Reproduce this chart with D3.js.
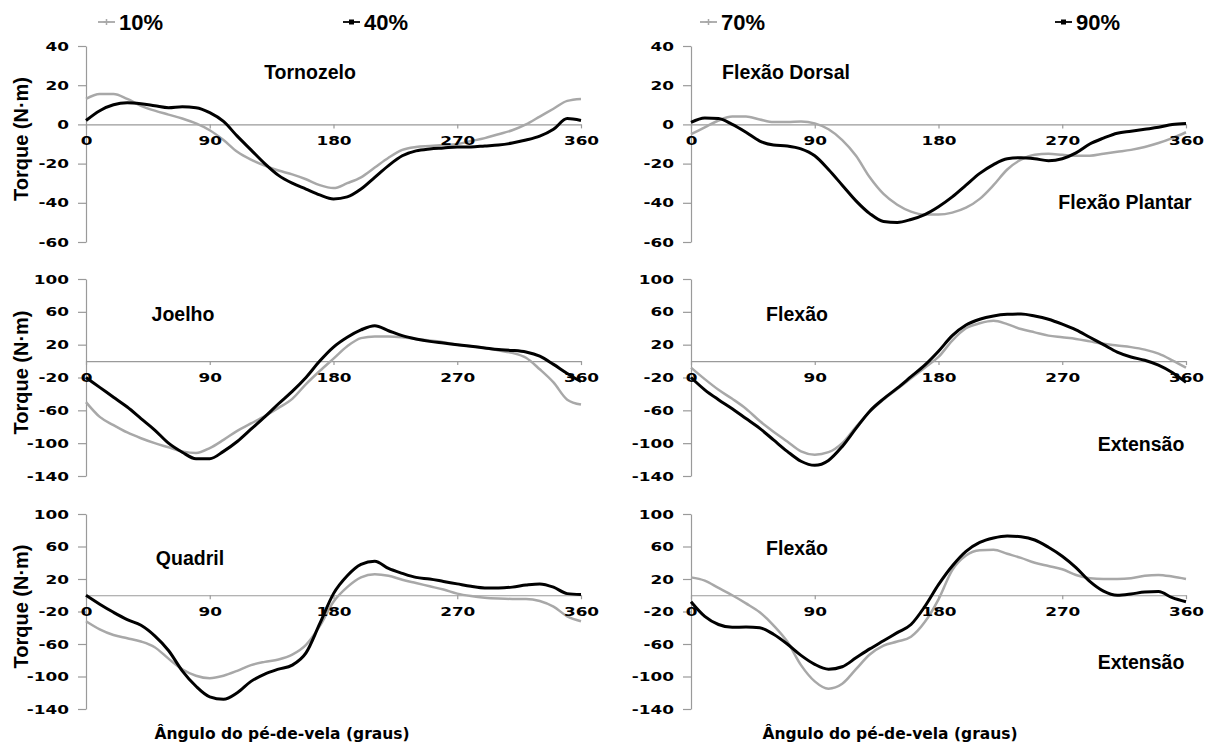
<!DOCTYPE html>
<html>
<head>
<meta charset="utf-8">
<script src="https://cdn.jsdelivr.net/npm/d3@7"></script>
<style>
  body { margin: 0; background: #fff; }
  svg { display: block; font-family: "Liberation Sans", Arial, sans-serif; }
  .tick text { font-family: "DejaVu Sans", sans-serif; font-weight: bold; font-size: 12.5px; fill: #000; }
  .axis path, .axis line { stroke: #9a9a9a; stroke-width: 1.2; }
</style>
</head>
<body>
<div id="chart"></div>
<script>
// crank angle (degrees)
const angles = [0, 10, 20, 30, 40, 50, 60, 70, 80, 90, 100, 110, 120, 130, 140, 150, 160, 170, 180,
  190, 200, 210, 220, 230, 240, 250, 260, 270, 280, 290, 300, 310, 320, 330, 340, 350, 360];

const xTicks = [0, 90, 180, 270, 360];
const ankleTicks = [40, 20, 0, -20, -40, -60];
const jointTicks = [100, 60, 20, -20, -60, -100, -140];

// torque (N·m) — ankle
const ankle10 = [13, 15.5, 15.5, 13, 9.5, 7, 5, 3, 0.5, -3, -8, -14, -18, -21, -23.5, -25.5, -28, -31, -32.5,
  -30, -27, -22, -17, -13, -11.5, -11, -10.5, -10, -8.5, -7, -5, -3, 0, 4, 8, 12, 13];
const ankle40 = [2, 7, 10, 11, 10.5, 9.5, 8.5, 9, 8.5, 6, 1.5, -6, -13, -20, -26, -30, -33, -36, -38,
  -37, -33, -27, -21, -16, -13.5, -12.5, -12, -11.5, -11.5, -11, -10.5, -9.5, -8, -6, -2.5, 3, 2];
const ankle70 = [-5, -1.5, 2, 4, 4, 2.5, 1.2, 1.2, 1.5, 0.5, -2.5, -8, -16, -27, -35.5, -41, -44.5, -46, -46,
  -45, -42.5, -38, -31, -23, -18, -15.5, -15, -15.5, -16, -16, -15, -14, -13, -11.5, -9.5, -7, -4];
const ankle90 = [1, 3.3, 3, 0, -4, -8.5, -10.5, -11, -12.5, -16, -23, -31, -39, -45.5, -49.5, -50, -48.5, -46, -42,
  -37, -31, -25, -20.5, -17.5, -17, -17.5, -18.5, -17.5, -14.5, -10, -7, -4.5, -3.5, -2.5, -1.5, 0, 0.5];

// knee
const knee10 = [-50, -68, -78, -87, -94, -100, -105, -110, -112, -106, -96, -85, -76, -67, -57, -46, -28, -12, 3,
  18, 28, 30, 30, 29, 27, 25, 23, 20, 18, 16, 13, 10, 4, -10, -26, -47, -53];
const knee40 = [-20, -32, -44, -56, -70, -84, -100, -111, -119, -119, -110, -98, -83, -68, -52, -37, -20, 0, 17,
  29, 38, 43, 37, 31, 27, 24, 22, 20, 18, 16, 14, 13, 11, 6, -4, -15, -25];
const knee70 = [-8, -22, -35, -46, -58, -73, -86, -98, -110, -114, -111, -100, -80, -62, -47, -34, -21, -8, 5,
  25, 40, 46, 49, 45, 39, 35, 31, 29, 27, 24, 21, 19, 17, 14, 9, 1, -8];
const knee90 = [-20, -35, -47, -58, -70, -82, -96, -110, -122, -127, -121, -104, -82, -61, -46, -33, -19, -5, 12,
  31, 44, 51, 55, 57, 57.5, 55, 51, 45, 38, 29, 20, 11, 5, 1, -5, -14, -26];

// hip
const hip10 = [-32, -42, -49, -53, -57, -64, -78, -91, -99, -102, -99, -93, -86, -82, -79, -73, -61, -38, -8,
  10, 22, 26, 24, 19, 15, 11, 7, 2, -1, -3, -4, -4.5, -4.5, -7, -14, -26, -32];
const hip40 = [0, -11, -21, -30, -37, -50, -68, -93, -112, -125, -128, -120, -106, -97, -91, -86, -71, -35, 2,
  24, 38, 42, 33, 27, 22, 20, 17, 14, 11, 9, 9, 10, 12.5, 14, 10, 2, 1];
const hip70 = [22, 18, 9, 0, -10, -21, -37, -57, -86, -106, -115, -109, -91, -73, -62, -57, -51, -33, -5,
  31, 49, 55.5, 56, 51, 46, 40, 36, 32, 25, 21, 20, 20, 21, 24, 25, 23, 20];
const hip90 = [-8, -26, -36, -39.5, -39, -40, -48, -60, -74, -85, -91, -88, -77, -66, -56, -46, -36, -14, 13,
  36, 54, 65, 70.5, 73, 72, 68, 59, 48, 34, 17, 5, 0, 1.5, 4, 4.5, -3, -8];

const legendLabels = ["10%", "40%", "70%", "90%"];
const GRAY = "#a8a8a8", BLACK = "#000";

var width = 1213, height = 746;

var svg = d3.select("#chart").append("svg")
  .attr("width", width)
  .attr("height", height);

svg.append("rect").attr("width", width).attr("height", height).attr("fill", "#fff");

// the tick labels in the picture are wide and heavy: stretch them sideways
var STRETCH = 1.35;
function stretchTicks(sel) {
  sel.selectAll(".tick text")
    .attr("transform", "scale(" + STRETCH + ",1)")
    .attr("x", function () { return (+this.getAttribute("x") || 0) / STRETCH; });
}

// panel frames (pixel layout only)
var cols = [{ x0: 86, x1: 581 }, { x0: 691, x1: 1186 }];
var rows = [
  { top: 46, bot: 242, domain: [-60, 40], ticks: ankleTicks },
  { top: 279, bot: 476, domain: [-140, 100], ticks: jointTicks },
  { top: 514, bot: 709, domain: [-140, 100], ticks: jointTicks }
];

var panels = [
  { r: 0, c: 0, gray: ankle10, black: ankle40, notes: [["Tornozelo", 310, 79]] },
  { r: 0, c: 1, gray: ankle70, black: ankle90, notes: [["Flexão Dorsal", 786, 79], ["Flexão Plantar", 1125, 209]] },
  { r: 1, c: 0, gray: knee10, black: knee40, notes: [["Joelho", 183, 321]] },
  { r: 1, c: 1, gray: knee70, black: knee90, notes: [["Flexão", 797, 321], ["Extensão", 1141, 451]] },
  { r: 2, c: 0, gray: hip10, black: hip40, notes: [["Quadril", 190, 565]] },
  { r: 2, c: 1, gray: hip70, black: hip90, notes: [["Flexão", 797, 555], ["Extensão", 1141, 669]] }
];

panels.forEach(function (p) {
  var col = cols[p.c], row = rows[p.r];
  var x = d3.scaleLinear().domain([0, 360]).range([col.x0, col.x1]);
  var y = d3.scaleLinear().domain(row.domain).range([row.bot, row.top]);
  var g = svg.append("g");

  // y axis
  g.append("g")
    .attr("class", "axis")
    .attr("transform", "translate(" + col.x0 + ",0)")
    .call(d3.axisLeft(y).tickValues(row.ticks).tickSize(8).tickSizeOuter(0).tickPadding(9)
      .tickFormat(function (d) { return String(d); }))
    .call(stretchTicks);

  // zero line + small ticks
  g.append("g")
    .attr("class", "axis")
    .attr("transform", "translate(0," + y(0) + ")")
    .call(d3.axisBottom(x).tickValues(xTicks).tickSize(4).tickSizeOuter(0).tickFormat(""));

  var line = d3.line()
    .x(function (d, i) { return x(angles[i]); })
    .y(function (d) { return y(d); })
    .curve(d3.curveMonotoneX);

  g.append("path").datum(p.gray)
    .attr("fill", "none").attr("stroke", GRAY).attr("stroke-width", 2.5)
    .attr("d", line);
  g.append("path").datum(p.black)
    .attr("fill", "none").attr("stroke", BLACK).attr("stroke-width", 3)
    .attr("d", line);

  // x tick labels on top of the curves
  var xl = g.append("g")
    .attr("transform", "translate(0," + y(0) + ")")
    .call(d3.axisBottom(x).tickValues(xTicks).tickSize(0).tickPadding(12))
    .call(stretchTicks);
  xl.select(".domain").remove();

  p.notes.forEach(function (n) {
    g.append("text")
      .attr("x", n[1]).attr("y", n[2])
      .attr("text-anchor", "middle")
      .style("font-size", "19.5px").style("font-weight", "bold")
      .text(n[0]);
  });

  if (p.c === 0) {
    var cy = (row.top + row.bot) / 2 - 5;
    g.append("text")
      .attr("transform", "translate(28," + cy + ") rotate(-90)")
      .attr("text-anchor", "middle")
      .style("font-size", "20px").style("font-weight", "bold")
      .text("Torque (N·m)");
  }
});

// legend
var legendPos = [98, 343, 700, 1055];
legendLabels.forEach(function (lab, i) {
  var lx = legendPos[i], ly = 22, col = i % 2 === 0 ? GRAY : BLACK;
  var lg = svg.append("g");
  lg.append("line").attr("x1", lx).attr("x2", lx + 17).attr("y1", ly).attr("y2", ly)
    .attr("stroke", col).attr("stroke-width", 1.8);
  if (i % 2 === 0) {
    lg.append("path").attr("d", "M" + (lx + 8.5) + "," + (ly - 3) + "v6M" + (lx + 5.5) + "," + ly + "h6")
      .attr("stroke", col).attr("stroke-width", 1.5);
  } else {
    lg.append("rect").attr("x", lx + 6) .attr("y", ly - 2.5).attr("width", 5).attr("height", 5).attr("fill", col);
  }
  lg.append("text").attr("x", lx + 21).attr("y", ly + 8)
    .style("font-size", "22px").style("font-weight", "bold")
    .text(lab);
});

// x axis titles
[282, 890].forEach(function (cx) {
  svg.append("text")
    .attr("x", cx).attr("y", 739)
    .attr("text-anchor", "middle")
    .style("font-family", "'DejaVu Sans', sans-serif")
    .style("font-size", "15.5px").style("font-weight", "bold")
    .text("Ângulo do pé-de-vela (graus)");
});
</script>
</body>
</html>
